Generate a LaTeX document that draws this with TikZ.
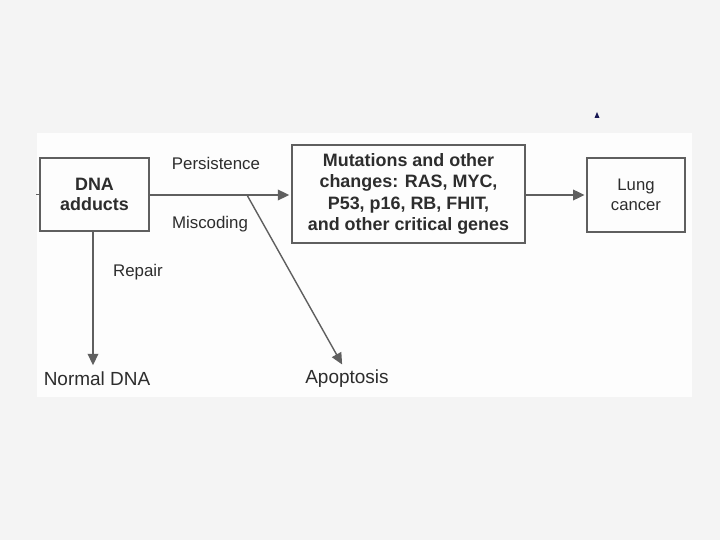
\documentclass[tikz,border=0pt]{standalone}
\usepackage{fontspec}
\setmainfont{Liberation Sans}
\usetikzlibrary{arrows.meta}
\definecolor{pagebg}{RGB}{244,244,244}
\definecolor{scanbg}{RGB}{253,253,253}
\definecolor{boxline}{RGB}{95,95,95}
\definecolor{inkgray}{RGB}{45,45,45}
\definecolor{marknavy}{RGB}{25,25,85}

\begin{document}
\begin{tikzpicture}[
  x=0.02cm, y=-0.02cm,
  >={Triangle[length=6.5pt,width=6pt]},
  stagebox/.style={draw=boxline, line width=1.1pt, align=center, text=inkgray,
    font=\fontsize{10.2}{11.5}\selectfont\bfseries, inner sep=0pt},
  flow/.style={draw=boxline, line width=1pt, ->, shorten >=1pt},
  lab/.style={text=inkgray, font=\fontsize{9.6}{11}\selectfont},
  endlab/.style={text=inkgray, font=\fontsize{10.8}{12}\selectfont},
]

  % page and scanned area
  \fill[pagebg] (0,0) rectangle (720,540);
  \fill[scanbg] (37,133) rectangle (692,397);

  % small marker above the figure
  \fill[marknavy] (594.5,118) -- (599.5,118) -- (597,112) -- cycle;

  % --- Boxes ---
  \node[stagebox, minimum width=109*0.02cm, minimum height=73*0.02cm]
    (dna) at (94.5,194.5) {DNA\\adducts};
  \node[stagebox, minimum width=233*0.02cm, minimum height=98*0.02cm,
    font=\fontsize{10.2}{12.2}\selectfont\bfseries]
    (mut) at (408.5,194) {Mutations and other\\changes: RAS, MYC,\\P53, p16, RB, FHIT,\\and other critical genes};
  \node[stagebox, line width=0.8pt, minimum width=98*0.02cm, minimum height=74*0.02cm,
    font=\fontsize{9.5}{11.5}\selectfont]
    (lung) at (636,195) {Lung\\cancer};

  % --- End points ---
  \node[endlab] (normal) at (97,379) {Normal DNA};
  \node[endlab] (apop) at (347,379) {Apoptosis};

  % --- Labels ---
  \node[lab] (persist) at (216,163) {Persistence};
  \node[lab] (miscode) at (210,224) {Miscoding};
  \node[lab] (repair) at (138,272) {Repair};

  % --- Connectors ---
  \coordinate (split) at (247,195);
  \draw[boxline, line width=0.9pt] (dna.west) -- ++(-3,0);
  \draw[flow] (dna.east |- split) -- (mut.west |- split);
  \draw[flow] (mut.east |- lung) -- (lung.west);
  \draw[flow] (dna.south -| 93,0) -- (93,367);
  \draw[flow, line width=0.8pt] (split) -- (343,366);

\end{tikzpicture}
\end{document}
